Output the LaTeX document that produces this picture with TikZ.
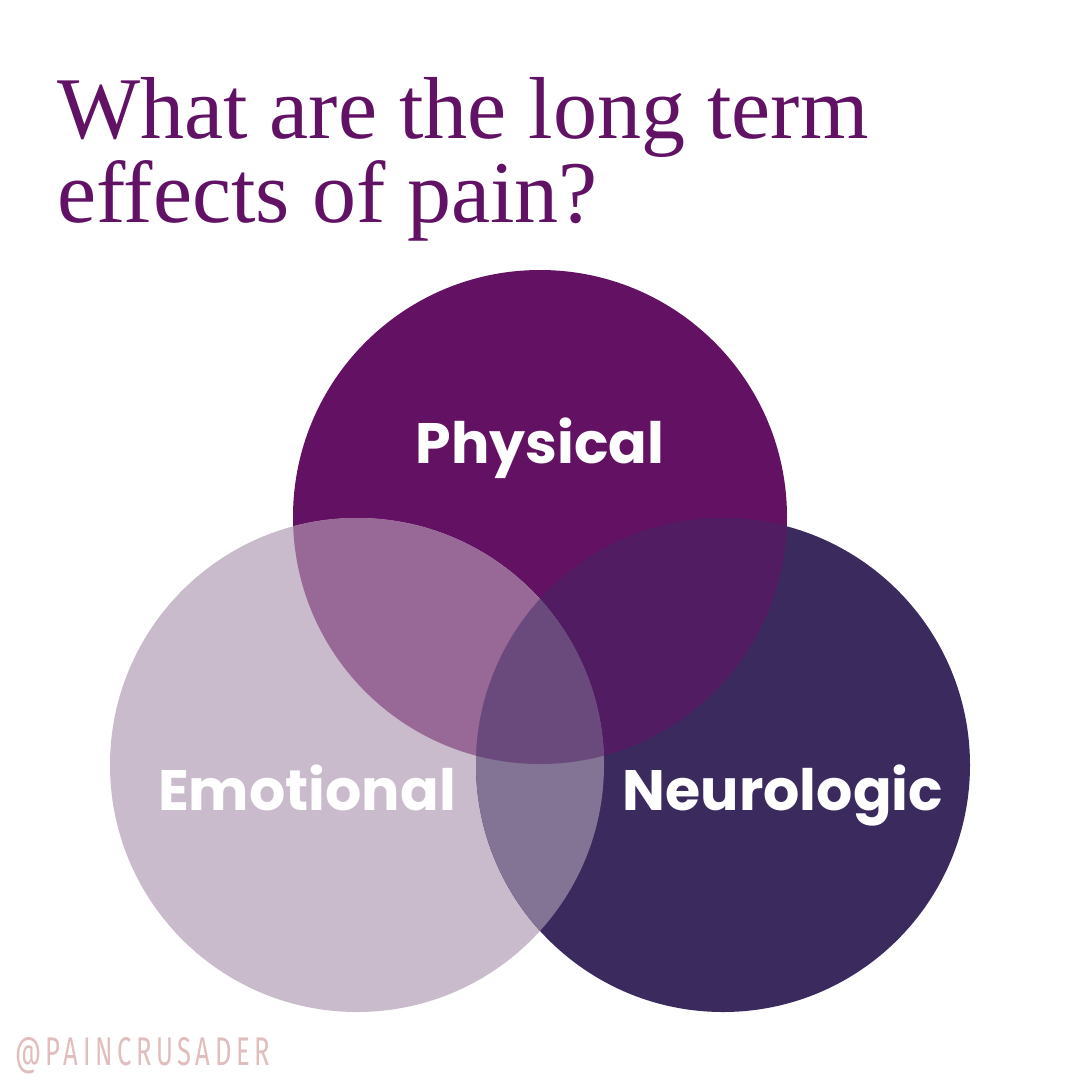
\documentclass[tikz,border=0pt]{standalone}
\usepackage{fontspec}
\setmainfont{Liberation Serif}
\setsansfont{Poppins}
\newfontfamily\handlefont[LetterSpace=18]{Fira Sans}
\usetikzlibrary{positioning}
\definecolor{PainTitle}{HTML}{611265}
\definecolor{PainPhysical}{HTML}{631163}
\definecolor{PainEmotional}{HTML}{C9BBCB}
\definecolor{PainNeuro}{HTML}{3A2A5D}
\definecolor{PainPhysEmo}{HTML}{986896}
\definecolor{PainPhysNeuro}{HTML}{521C62}
\definecolor{PainEmoNeuro}{HTML}{837495}
\definecolor{PainAll}{HTML}{6A4A7C}
\definecolor{PainHandle}{HTML}{E2BDBD}
\tikzset{
  pain title/.style={
    anchor=base west,
    text=PainTitle,
    inner sep=0pt,
    font=\fontsize{88}{88}\selectfont
  },
  pain circle/.style={
    circle,
    draw=none,
    minimum size=494pt,
    inner sep=0pt
  },
  pain label/.style={
    anchor=base,
    text=white,
    inner sep=0pt,
    font=\sffamily\bfseries\fontsize{57}{57}\selectfont
  },
  pain handle/.style={
    anchor=base west,
    text=PainHandle,
    inner sep=0pt,
    xscale=0.64,
    font=\handlefont\fontsize{40}{40}\selectfont
  }
}

\begin{document}
\begin{tikzpicture}[x=1pt,y=-1pt]
  \useasboundingbox[fill=white] (0,0) rectangle (1080,1080);

  \node[pain title] (line1) at (57,138) {What are the long term};
  \node[pain title] (line2) at (57,222) {effects of pain?};

  \node[pain circle,fill=PainPhysical] (physical) at (540,517) {};
  \node[pain circle,fill=PainEmotional] (emotional) at (357,765) {};
  \node[pain circle,fill=PainNeuro] (neuro) at (723,765) {};

  % overlaps
  \begin{scope}
    \clip (540,517) circle (247);
    \fill[PainPhysEmo] (357,765) circle (247);
    \fill[PainPhysNeuro] (723,765) circle (247);
  \end{scope}
  \begin{scope}
    \clip (357,765) circle (247);
    \fill[PainEmoNeuro] (723,765) circle (247);
    \clip (723,765) circle (247);
    \fill[PainAll] (540,517) circle (247);
  \end{scope}

  \node[pain label] (physlabel) at (540,463) {Physical};
  \node[pain label] (emolabel) at (307,810) {Emotional};
  \node[pain label] (neurolabel) at (783,810) {Neurologic};

  \node[pain handle] (handle) at (15,1065) {@PAINCRUSADER};
\end{tikzpicture}
\end{document}
